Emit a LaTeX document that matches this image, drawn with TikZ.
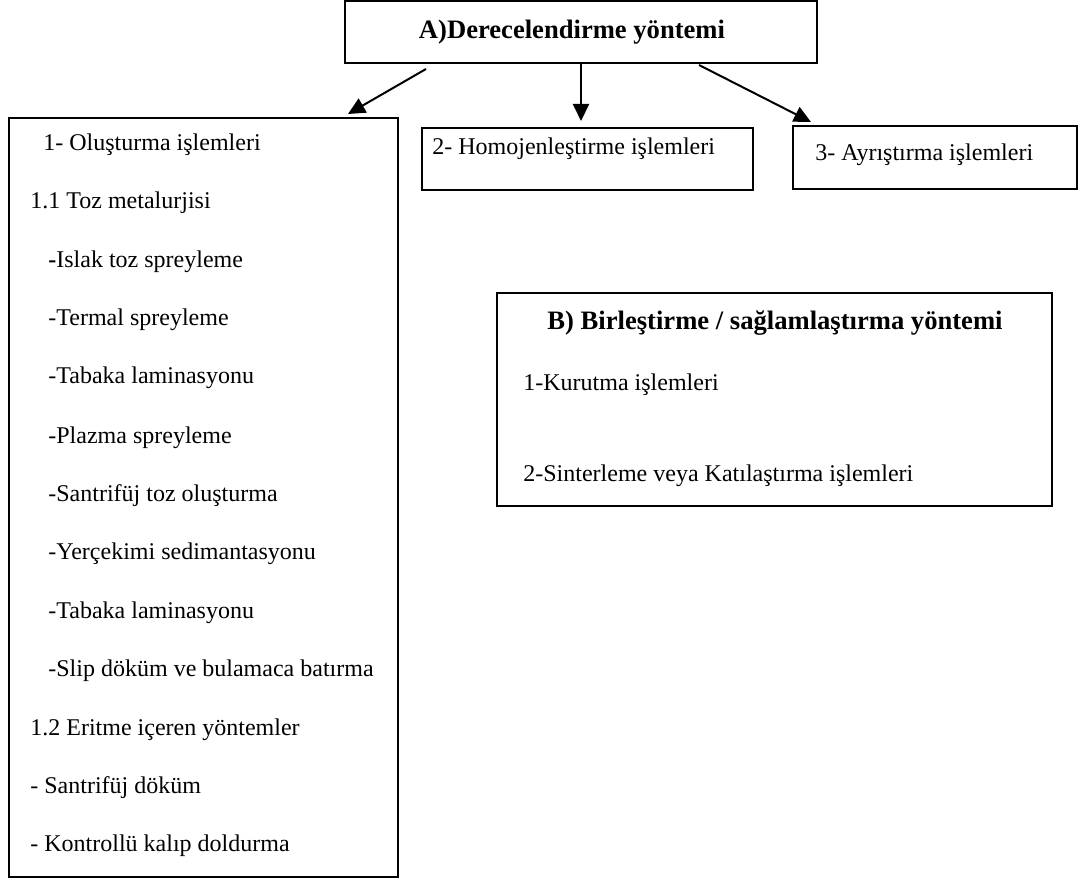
\documentclass[tikz,border=0pt]{standalone}
\usepackage{fontspec}
\setmainfont{Liberation Serif}
\usetikzlibrary{arrows.meta}

\begin{document}
\begin{tikzpicture}[
        x=0.5pt, y=-0.5pt,
        methodbox/.style={
            draw,
            line width=1pt,
            inner sep=0pt
        },
        entry/.style={
            anchor=base west,
            inner sep=0pt,
            font=\fontsize{12pt}{14pt}\selectfont
        },
        heading/.style={
            inner sep=0pt,
            font=\fontsize{13.3pt}{15pt}\selectfont\bfseries
        },
        link/.style={-{Triangle[length=8.5pt, width=8pt]}, line width=1pt}
    ]
        \useasboundingbox (0,0) rectangle (1079,881);

        % boxes
        \node[methodbox, minimum width=236pt, minimum height=31pt] (grading) at (581,32) {};
        \node[methodbox, minimum width=194.5pt, minimum height=379.5pt] (forming) at (203.5,497.5) {};
        \node[methodbox, minimum width=165.5pt, minimum height=31pt] (homogen) at (587.5,159) {};
        \node[methodbox, minimum width=142pt, minimum height=31.5pt] (separation) at (935,157.5) {};
        \node[methodbox, minimum width=277.5pt, minimum height=106.5pt] (joining) at (774.5,399.5) {};

        % texts
        \node[heading] (gradingtitle) at (572,32) {A)Derecelendirme yöntemi};
        \node[entry] (homogentext) at (432,155) {2- Homojenleştirme işlemleri};
        \node[entry] (separationtext) at (815,161) {3- Ayrıştırma işlemleri};

        \node[entry] (forming1) at (43,151) {1- Oluşturma işlemleri};
        \node[entry] (powder) at (30,209) {1.1 Toz metalurjisi};
        \node[entry] (wetspray) at (48,268) {\textbf{-}Islak toz spreyleme};
        \node[entry] (thermal) at (48,326) {-Termal spreyleme};
        \node[entry] (laminate) at (48,384) {-Tabaka laminasyonu};
        \node[entry] (plasma) at (48,443) {-Plazma spreyleme};
        \node[entry] (centrifugal) at (48,501) {-Santrifüj toz oluşturma};
        \node[entry] (gravity) at (48,559) {-Yerçekimi sedimantasyonu};
        \node[entry] (laminatetwo) at (48,618) {-Tabaka laminasyonu};
        \node[entry] (slip) at (48,676) {-Slip döküm ve bulamaca batırma};
        \node[entry] (melting) at (30,735) {1.2 Eritme içeren yöntemler};
        \node[entry] (casting) at (30,793) {- Santrifüj döküm};
        \node[entry] (moulding) at (30,851) {- Kontrollü kalıp doldurma};

        \node[heading] (joiningtitle) at (775,323) {B) Birleştirme / sağlamlaştırma yöntemi};
        \node[entry] (drying) at (523,391) {1-Kurutma işlemleri};
        \node[entry] (sintering) at (523,481) {2-Sinterleme veya Katılaştırma işlemleri};

        % arrows
        \draw[link] ([xshift=41pt, yshift=-2.5pt]grading.south west) --
            ([xshift=-25.5pt, yshift=1.5pt]forming.north east);
        \draw[link] (grading.south) --
            ([yshift=3pt]grading.south |- homogen.north);
        \draw[link] ([xshift=-59.5pt, yshift=-0.5pt]grading.south east) --
            ([xshift=9.5pt, yshift=1.5pt]separation.north west);
    \end{tikzpicture}
\end{document}
